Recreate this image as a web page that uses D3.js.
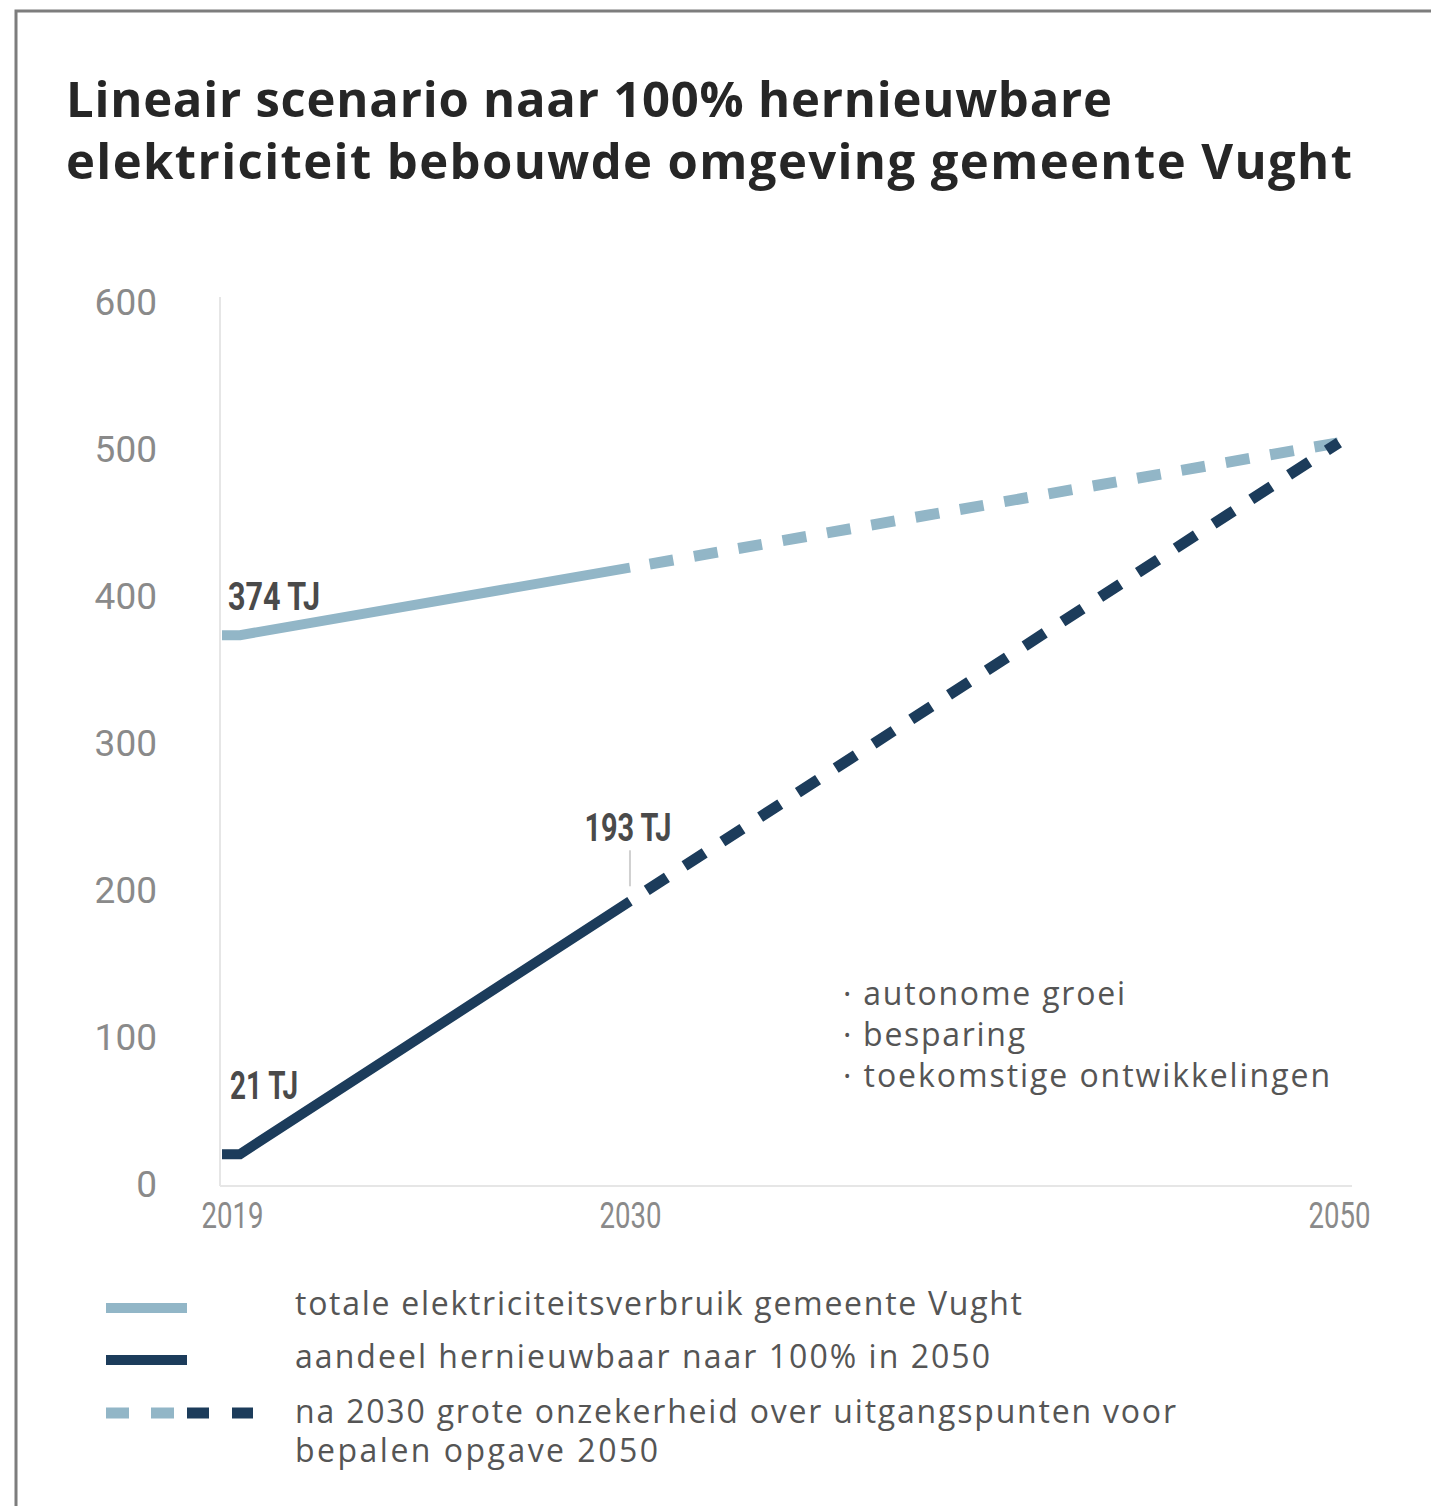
<!DOCTYPE html>
<html>
<head>
<meta charset="utf-8">
<script src="https://cdn.jsdelivr.net/npm/d3@7"></script>
<style>
	body { margin: 0; background: #fff; }
	svg { display: block; }
</style>
</head>
<body>
<div id="chart"></div>
<script>
'use strict'

var years = [2019, 2030, 2050];
var totalUse = [374, 420, 505];
var renewableShare = [21, 193, 505];
var certainUntil = 2030;

var yTicks = [0, 100, 200, 300, 400, 500, 600];
var xTicks = [2019, 2030, 2050];

var titleLines = [
	'Lineair scenario naar 100% hernieuwbare',
	'elektriciteit bebouwde omgeving gemeente Vught'
];
var factors = ['autonome groei', 'besparing', 'toekomstige ontwikkelingen'];
var legendLabels = [
	'totale elektriciteitsverbruik gemeente Vught',
	'aandeel hernieuwbaar naar 100% in 2050',
	'na 2030 grote onzekerheid over uitgangspunten voor',
	'bepalen opgave 2050'
];

var LIGHT = '#92b6c7';
var DARK = '#1c3c5b';

var app = {
	init: function() {
		this.width = 1431;
		this.height = 1506;
		this.plot = { left: 220, right: 1352, top: 297, bottom: 1186 };

		this.svg = d3.select('#chart')
			.append('svg')
			.attr('width', app.width)
			.attr('height', app.height);

		// frame of the original picture (top + left edge only)
		app.svg.append('path')
			.attr('d', 'M16,' + app.height + 'V11H' + app.width)
			.attr('fill', 'none')
			.attr('stroke', '#7d7d7d')
			.attr('stroke-width', 3);

		var titleWidths = [1046, 1286];
		app.svg.append('g').selectAll('text')
			.data(titleLines)
			.enter().append('text')
			.attr('x', 66)
			.attr('y', function(d, i) { return 117 + i * 62; })
			.attr('font-family', 'Open Sans, sans-serif')
			.attr('font-weight', 700)
			.attr('font-size', 49)
			.attr('fill', '#262626')
			.attr('textLength', function(d, i) { return titleWidths[i]; })
			.attr('lengthAdjust', 'spacing')
			.text(function(d) { return d; });

		this.x = d3.scaleLinear()
			.domain([2019, 2050])
			.range([240, 1339]);

		this.y = d3.scaleLinear()
			.domain([0, 600])
			.range([1185, 303]);

		app.drawAxes();
		app.drawSeries(totalUse, LIGHT);
		app.drawSeries(renewableShare, DARK);
		app.drawLabels();
		app.drawLegend();
	},

	drawAxes: function() {
		var svg = app.svg;

		svg.append('line')
			.attr('x1', app.plot.left).attr('x2', app.plot.left)
			.attr('y1', app.plot.top).attr('y2', app.plot.bottom)
			.attr('stroke', '#e6e6e6').attr('stroke-width', 2);

		svg.append('line')
			.attr('x1', app.plot.left).attr('x2', app.plot.right)
			.attr('y1', app.plot.bottom).attr('y2', app.plot.bottom)
			.attr('stroke', '#e6e6e6').attr('stroke-width', 2);

		var yAxis = d3.axisLeft(app.y)
			.tickValues(yTicks)
			.tickSize(0)
			.tickPadding(63);

		var gy = svg.append('g')
			.attr('transform', 'translate(' + app.plot.left + ',0)')
			.call(yAxis);
		gy.select('.domain').remove();
		gy.selectAll('text')
			.attr('font-family', 'Roboto, sans-serif')
			.attr('font-size', 37)
			.attr('fill', '#8a8a8a');

		var xAxis = d3.axisBottom(app.x)
			.tickValues(xTicks)
			.tickFormat(d3.format('d'))
			.tickSize(0)
			.tickPadding(17);

		var gx = svg.append('g')
			.attr('transform', 'translate(0,' + (app.plot.bottom - 1) + ')')
			.call(xAxis);
		gx.select('.domain').remove();
		// the source uses a condensed face, squeeze Roboto to the same width
		gx.selectAll('text')
			.attr('font-family', 'Roboto, sans-serif')
			.attr('font-size', 37)
			.attr('fill', '#8a8a8a')
			.attr('dx', function(d, i) { return i === 0 ? -8 : 0; })
			.attr('textLength', 62)
			.attr('lengthAdjust', 'spacingAndGlyphs');
	},

	drawSeries: function(values, color) {
		var pts = years.map(function(d, i) { return { year: d, value: values[i] }; });

		var line = d3.line()
			.x(function(d) { return d.year == null ? app.plot.left + 2 : app.x(d.year); })
			.y(function(d) { return app.y(d.value); });

		// short flat stub from the axis to the first year
		var solid = [{ year: null, value: pts[0].value }].concat(
			pts.filter(function(d) { return d.year <= certainUntil; }));
		var dashed = pts.filter(function(d) { return d.year >= certainUntil; });

		app.svg.append('path')
			.attr('d', line(solid))
			.attr('fill', 'none')
			.attr('stroke', color)
			.attr('stroke-width', 10);

		app.svg.append('path')
			.attr('d', line(dashed))
			.attr('fill', 'none')
			.attr('stroke', color)
			.attr('stroke-width', 11)
			.attr('stroke-dasharray', '24,21')
			.attr('stroke-dashoffset', 25);
	},

	drawLabels: function() {
		var svg = app.svg;
		var x0 = app.x(years[0]);
		var i30 = years.indexOf(certainUntil);

		var notes = [
			{ text: totalUse[0] + ' TJ', x: x0 - 12, y: app.y(totalUse[0]) - 25, anchor: 'start', w: 92 },
			{ text: renewableShare[0] + ' TJ', x: x0 - 10, y: app.y(renewableShare[0]) - 55, anchor: 'start', w: 68 },
			{ text: renewableShare[i30] + ' TJ', x: app.x(certainUntil) - 2, y: app.y(renewableShare[i30]) - 60, anchor: 'middle', w: 87 }
		];

		svg.append('g').selectAll('text')
			.data(notes)
			.enter().append('text')
			.attr('x', function(d) { return d.x; })
			.attr('y', function(d) { return d.y; })
			.attr('text-anchor', function(d) { return d.anchor; })
			.attr('font-family', 'Roboto, sans-serif')
			.attr('font-weight', 700)
			.attr('font-size', 38)
			.attr('fill', '#4a4a4a')
			.attr('textLength', function(d) { return d.w; })
			.attr('lengthAdjust', 'spacingAndGlyphs')
			.text(function(d) { return d.text; });

		svg.append('line')
			.attr('x1', app.x(certainUntil)).attr('x2', app.x(certainUntil))
			.attr('y1', app.y(renewableShare[i30]) - 51)
			.attr('y2', app.y(renewableShare[i30]) - 15)
			.attr('stroke', '#d0d0d0')
			.attr('stroke-width', 2);

		var factorWidths = [282, 182, 487];
		svg.append('g').selectAll('text')
			.data(factors)
			.enter().append('text')
			.attr('x', 843)
			.attr('y', function(d, i) { return 1005 + i * 41; })
			.attr('font-family', 'Open Sans, sans-serif')
			.attr('font-size', 32)
			.attr('fill', '#555')
			.attr('textLength', function(d, i) { return factorWidths[i]; })
			.attr('lengthAdjust', 'spacing')
			.text(function(d) { return '\u00b7 ' + d; });
	},

	drawLegend: function() {
		var svg = app.svg;

		svg.append('line')
			.attr('x1', 106).attr('x2', 187)
			.attr('y1', 1308).attr('y2', 1308)
			.attr('stroke', LIGHT).attr('stroke-width', 10);

		svg.append('line')
			.attr('x1', 106).attr('x2', 187)
			.attr('y1', 1360).attr('y2', 1360)
			.attr('stroke', DARK).attr('stroke-width', 10);

		svg.append('line')
			.attr('x1', 106).attr('x2', 174)
			.attr('y1', 1413).attr('y2', 1413)
			.attr('stroke', LIGHT).attr('stroke-width', 11)
			.attr('stroke-dasharray', '23,22');

		svg.append('line')
			.attr('x1', 187).attr('x2', 253)
			.attr('y1', 1413).attr('y2', 1413)
			.attr('stroke', DARK).attr('stroke-width', 11)
			.attr('stroke-dasharray', '22,23');

		var legendWidths = [727, 695, 881, 363];
		svg.append('g').selectAll('text')
			.data(legendLabels)
			.enter().append('text')
			.attr('x', 295)
			.attr('y', function(d, i) { return [1315, 1368, 1423, 1462][i]; })
			.attr('font-family', 'Open Sans, sans-serif')
			.attr('font-size', 32)
			.attr('fill', '#555')
			.attr('textLength', function(d, i) { return legendWidths[i]; })
			.attr('lengthAdjust', 'spacing')
			.text(function(d) { return d; });
	}
};

app.init();
</script>
</body>
</html>
